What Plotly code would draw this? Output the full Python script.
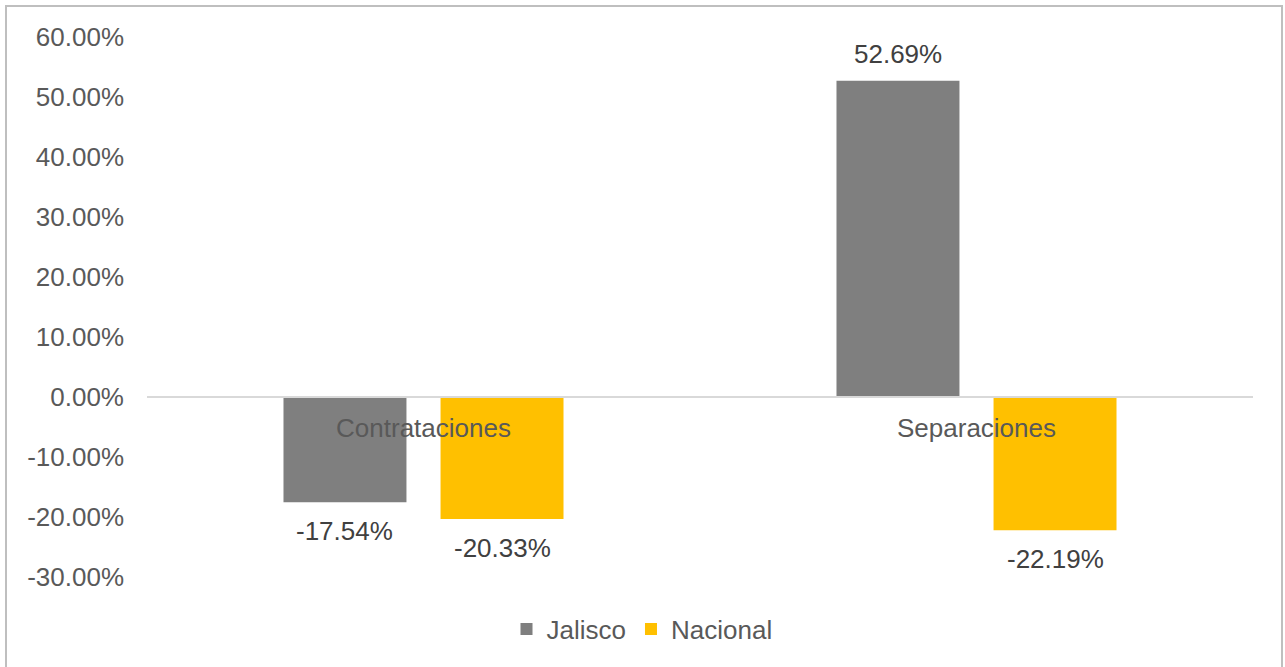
import plotly.graph_objs as go

# data
categories = ["Contrataciones", "Separaciones"]
jalisco = [-0.1754, 0.5269]
nacional = [-0.2033, -0.2219]
series_names = ["Jalisco", "Nacional"]
series_colors = ["#7f7f7f", "#ffc000"]
y_ticks = [-0.3, -0.2, -0.1, 0.0, 0.1, 0.2, 0.3, 0.4, 0.5, 0.6]
y_ticktext = ["-30.00%", "-20.00%", "-10.00%", "0.00%", "10.00%", "20.00%",
              "30.00%", "40.00%", "50.00%", "60.00%"]

W, H = 1285, 667
L, R, T, B = 147, 32, 37, 90
pw, ph = W - L - R, H - T - B

fig = go.Figure()
for name, vals, col in zip(series_names, [jalisco, nacional], series_colors):
    fig.add_trace(go.Bar(name=name, x=categories, y=vals, marker=dict(color=col, line_width=0)))

# data labels, placed a bit away from the bar ends like Excel does
offset = 0.1424
annotations = []
for k, vals in enumerate([jalisco, nacional]):
    dx = -offset if k == 0 else offset
    for i, v in enumerate(vals):
        annotations.append(dict(
            x=i + dx, y=v, xref="x", yref="y",
            text=f"{v * 100:.2f}%", showarrow=False,
            yanchor="bottom" if v >= 0 else "top",
            yshift=10 if v >= 0 else -12,
            font=dict(size=26, color="#404040"),
        ))

# page pixel -> paper fraction
def px_x(p):
    return (p - L) / pw

def px_y(p):
    return (H - B - p) / ph

fig.update_layout(
    width=W, height=H,
    margin=dict(l=L, r=R, t=T, b=B),
    paper_bgcolor="white", plot_bgcolor="white",
    font=dict(family="Liberation Sans, Arial, sans-serif", size=26, color="#595959"),
    barmode="group", bargap=0.432, bargroupgap=0.217,
    showlegend=True,
    legend=dict(orientation="h", x=px_x(642), xanchor="center", y=px_y(629), yanchor="middle",
                font=dict(size=26, color="#595959"), itemwidth=30, traceorder="normal"),
    xaxis=dict(anchor="free", position=1 / 3, showline=True, linecolor="#d9d9d9", linewidth=2,
               ticks="", showgrid=False, ticklabelstandoff=8, tickfont=dict(size=26, color="#595959")),
    yaxis=dict(range=[-0.3, 0.6], tickvals=y_ticks, ticktext=y_ticktext, showgrid=False,
               zeroline=False, showline=False, ticks="", ticklabelstandoff=22,
               tickfont=dict(size=26, color="#595959")),
    annotations=annotations,
    shapes=[dict(type="rect", xref="paper", yref="paper",
                 x0=px_x(6), x1=px_x(1282), y0=px_y(668), y1=px_y(6),
                 line=dict(color="#bfbfbf", width=2), layer="below")],
)

# drop the default body margin so the figure fills the window exactly
fig.write_html("out.html", config={"displayModeBar": False},
               post_script="document.body.style.margin='0';")
